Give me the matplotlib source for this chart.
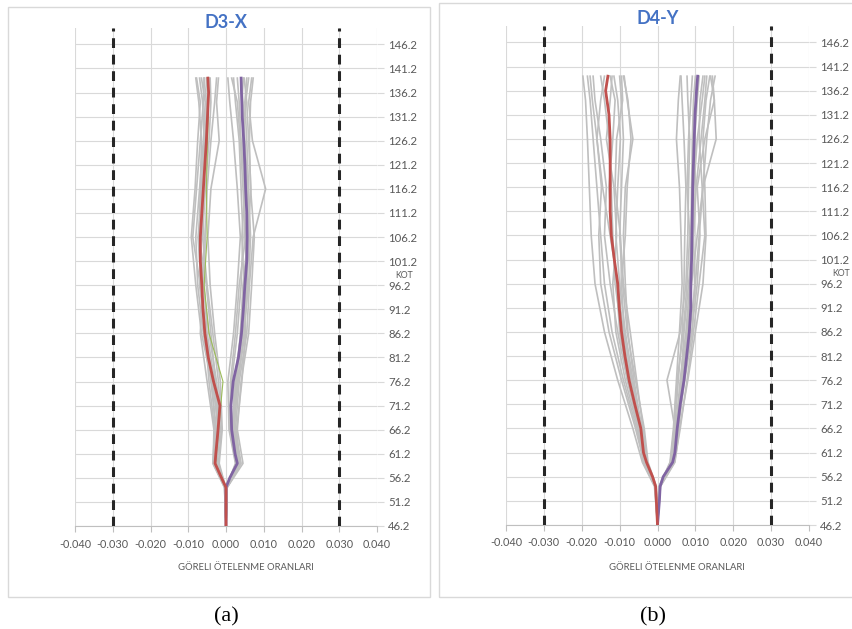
import matplotlib.pyplot as plt
from matplotlib.patches import Rectangle

# kot seviyeleri (ana egriler)
levels_main = [46.2, 51.2, 54.2, 56.2, 59.2, 61.2, 66.2, 71.2, 76.2, 81.2, 86.2,
               91.2, 96.2, 101.2, 106.2, 111.2, 116.2, 121.2, 126.2, 131.2, 136.2, 139.2]
# kot seviyeleri (gri kayit egrileri)
levels_gray = [46.2, 54.2, 59.2, 66.2, 76.2, 86.2, 96.2, 106.2, 116.2, 126.2, 134.2, 139.2]

# D3-X ortalama egriler
d3_red = [0, 0, 0, -0.0012, -0.0029, -0.0027, -0.0021, -0.0016, -0.0033, -0.0047, -0.0056,
          -0.0061, -0.0064, -0.0068, -0.0068, -0.0064, -0.0060, -0.0056, -0.0052, -0.0049, -0.0046, -0.0048]
d3_purple = [0, 0, 0, 0.0010, 0.0030, 0.0024, 0.0015, 0.0013, 0.0019, 0.0033, 0.0041,
             0.0046, 0.0050, 0.0055, 0.0056, 0.0055, 0.0052, 0.0050, 0.0047, 0.0043, 0.0041, 0.0040]
d3_green = [0, 0, -0.0028, -0.0020, -0.0008, -0.0045, -0.0058, -0.0050, -0.0052, -0.0049, -0.0046, -0.0047]

d3_gray_left = [
    [0, -0.0003, -0.0030, -0.0025, -0.0040, -0.0060, -0.0075, -0.0080, -0.0070, -0.0060, -0.0055, -0.0065],
    [0, -0.0002, -0.0025, -0.0015, -0.0025, -0.0045, -0.0060, -0.0070, -0.0065, -0.0058, -0.0062, -0.0070],
    [0, -0.0004, -0.0035, -0.0030, -0.0045, -0.0055, -0.0068, -0.0088, -0.0078, -0.0068, -0.0060, -0.0058],
    [0, -0.0001, -0.0020, -0.0012, -0.0020, -0.0035, -0.0050, -0.0062, -0.0055, -0.0045, -0.0040, -0.0042],
    [0, -0.0003, -0.0028, -0.0022, -0.0030, -0.0050, -0.0058, -0.0055, -0.0050, -0.0040, -0.0030, -0.0025],
    [0, -0.0002, -0.0032, -0.0028, -0.0038, -0.0065, -0.0080, -0.0092, -0.0082, -0.0075, -0.0068, -0.0078],
    [0, -0.0001, -0.0018, -0.0010, -0.0015, -0.0030, -0.0042, -0.0048, -0.0040, -0.0018, -0.0025, -0.0020],
    [0, -0.0003, -0.0026, -0.0020, -0.0035, -0.0055, -0.0070, -0.0066, -0.0060, -0.0050, -0.0048, -0.0052],
    [0, -0.0002, -0.0024, -0.0018, -0.0028, -0.0040, -0.0052, -0.0072, -0.0068, -0.0065, -0.0072, -0.0080],
    [0, -0.0004, -0.0034, -0.0032, -0.0050, -0.0068, -0.0062, -0.0058, -0.0064, -0.0055, -0.0050, -0.0045],
    [0, -0.0002, -0.0027, -0.0019, -0.0036, -0.0052, -0.0066, -0.0074, -0.0062, -0.0054, -0.0052, -0.0058],
]
d3_gray_right = [
    [0, 0.0002, 0.0035, 0.0020, 0.0025, 0.0045, 0.0060, 0.0065, 0.0060, 0.0055, 0.0050, 0.0055],
    [0, 0.0003, 0.0040, 0.0025, 0.0035, 0.0055, 0.0062, 0.0072, 0.0105, 0.0070, 0.0060, 0.0068],
    [0, 0.0001, 0.0028, 0.0012, 0.0015, 0.0030, 0.0040, 0.0045, 0.0040, 0.0035, 0.0025, 0.0020],
    [0, 0.0002, 0.0032, 0.0018, 0.0022, 0.0040, 0.0055, 0.0060, 0.0058, 0.0050, 0.0045, 0.0040],
    [0, 0.0003, 0.0045, 0.0030, 0.0040, 0.0060, 0.0068, 0.0075, 0.0065, 0.0062, 0.0065, 0.0072],
    [0, 0.0001, 0.0025, 0.0008, 0.0005, 0.0020, 0.0030, 0.0038, 0.0030, 0.0020, 0.0010, 0.0005],
    [0, 0.0002, 0.0030, 0.0015, 0.0030, 0.0048, 0.0058, 0.0050, 0.0048, 0.0045, 0.0052, 0.0060],
    [0, 0.0003, 0.0038, 0.0022, 0.0028, 0.0038, 0.0045, 0.0058, 0.0066, 0.0060, 0.0055, 0.0048],
    [0, 0.0002, 0.0036, 0.0028, 0.0042, 0.0052, 0.0048, 0.0042, 0.0050, 0.0040, 0.0035, 0.0030],
    [0, 0.0001, 0.0026, 0.0010, 0.0012, 0.0025, 0.0035, 0.0052, 0.0045, 0.0038, 0.0030, 0.0015],
    [0, 0.0002, 0.0033, 0.0021, 0.0032, 0.0050, 0.0054, 0.0062, 0.0055, 0.0048, 0.0042, 0.0046],
]

# D4-Y ortalama egriler
d4_red = [0, -0.0003, -0.0005, -0.0013, -0.0029, -0.0037, -0.0044, -0.0060, -0.0075, -0.0086, -0.0095,
          -0.0101, -0.0105, -0.0114, -0.0122, -0.0125, -0.0125, -0.0125, -0.0125, -0.0128, -0.0137, -0.0131]
d4_purple = [0, 0.0005, 0.0007, 0.0015, 0.0040, 0.0046, 0.0052, 0.0060, 0.0070, 0.0077, 0.0084,
             0.0088, 0.0088, 0.0090, 0.0091, 0.0092, 0.0093, 0.0095, 0.0097, 0.0099, 0.0103, 0.0106]

d4_gray_left = [
    [0, -0.0008, -0.0040, -0.0065, -0.0105, -0.0140, -0.0165, -0.0175, -0.0180, -0.0185, -0.0190, -0.0197],
    [0, -0.0006, -0.0035, -0.0055, -0.0090, -0.0120, -0.0140, -0.0150, -0.0160, -0.0170, -0.0178, -0.0185],
    [0, -0.0005, -0.0030, -0.0048, -0.0080, -0.0105, -0.0125, -0.0140, -0.0135, -0.0150, -0.0165, -0.0170],
    [0, -0.0004, -0.0028, -0.0040, -0.0070, -0.0095, -0.0112, -0.0118, -0.0122, -0.0128, -0.0140, -0.0150],
    [0, -0.0005, -0.0032, -0.0045, -0.0065, -0.0085, -0.0100, -0.0110, -0.0105, -0.0098, -0.0105, -0.0115],
    [0, -0.0003, -0.0025, -0.0035, -0.0058, -0.0080, -0.0092, -0.0100, -0.0095, -0.0090, -0.0095, -0.0100],
    [0, -0.0004, -0.0030, -0.0042, -0.0062, -0.0078, -0.0085, -0.0090, -0.0085, -0.0065, -0.0080, -0.0088],
    [0, -0.0006, -0.0038, -0.0050, -0.0075, -0.0090, -0.0105, -0.0125, -0.0145, -0.0160, -0.0150, -0.0140],
    [0, -0.0005, -0.0033, -0.0052, -0.0085, -0.0110, -0.0118, -0.0108, -0.0115, -0.0135, -0.0125, -0.0120],
    [0, -0.0004, -0.0027, -0.0038, -0.0055, -0.0072, -0.0090, -0.0098, -0.0112, -0.0108, -0.0092, -0.0095],
    [0, -0.0007, -0.0036, -0.0058, -0.0095, -0.0128, -0.0150, -0.0155, -0.0148, -0.0160, -0.0172, -0.0178],
    [0, -0.0005, -0.0029, -0.0044, -0.0068, -0.0088, -0.0095, -0.0085, -0.0080, -0.0070, -0.0078, -0.0090],
    [0, -0.0006, -0.0034, -0.0050, -0.0078, -0.0100, -0.0108, -0.0120, -0.0128, -0.0118, -0.0112, -0.0125],
]
d4_gray_right = [
    [0, 0.0006, 0.0038, 0.0048, 0.0060, 0.0075, 0.0085, 0.0088, 0.0090, 0.0092, 0.0095, 0.0100],
    [0, 0.0007, 0.0042, 0.0055, 0.0070, 0.0085, 0.0100, 0.0110, 0.0120, 0.0130, 0.0140, 0.0152],
    [0, 0.0005, 0.0035, 0.0045, 0.0055, 0.0065, 0.0070, 0.0072, 0.0075, 0.0070, 0.0065, 0.0062],
    [0, 0.0006, 0.0040, 0.0050, 0.0068, 0.0090, 0.0105, 0.0112, 0.0105, 0.0125, 0.0150, 0.0145],
    [0, 0.0005, 0.0036, 0.0046, 0.0025, 0.0060, 0.0075, 0.0080, 0.0082, 0.0085, 0.0080, 0.0078],
    [0, 0.0007, 0.0045, 0.0060, 0.0078, 0.0095, 0.0110, 0.0125, 0.0118, 0.0110, 0.0112, 0.0120],
    [0, 0.0006, 0.0040, 0.0052, 0.0062, 0.0070, 0.0082, 0.0095, 0.0100, 0.0098, 0.0105, 0.0110],
    [0, 0.0004, 0.0033, 0.0042, 0.0050, 0.0058, 0.0065, 0.0062, 0.0058, 0.0050, 0.0055, 0.0060],
    [0, 0.0006, 0.0041, 0.0054, 0.0072, 0.0092, 0.0098, 0.0095, 0.0102, 0.0115, 0.0125, 0.0130],
    [0, 0.0005, 0.0037, 0.0048, 0.0065, 0.0080, 0.0090, 0.0105, 0.0120, 0.0155, 0.0150, 0.0140],
    [0, 0.0008, 0.0046, 0.0058, 0.0080, 0.0100, 0.0120, 0.0128, 0.0125, 0.0120, 0.0128, 0.0138],
    [0, 0.0005, 0.0034, 0.0044, 0.0052, 0.0068, 0.0078, 0.0085, 0.0078, 0.0082, 0.0088, 0.0092],
    [0, 0.0006, 0.0039, 0.0050, 0.0064, 0.0078, 0.0088, 0.0092, 0.0096, 0.0105, 0.0118, 0.0125],
]

limits = [-0.03, 0.03]
xticks = [-0.04, -0.03, -0.02, -0.01, 0.0, 0.01, 0.02, 0.03, 0.04]
yticks = [46.2, 51.2, 56.2, 61.2, 66.2, 71.2, 76.2, 81.2, 86.2, 91.2, 96.2,
          101.2, 106.2, 111.2, 116.2, 121.2, 126.2, 131.2, 136.2, 141.2, 146.2]

W, H = 852, 629
fig = plt.figure(figsize=(W / 100, H / 100), dpi=100)
txt_gray = '#595959'
font = 'Lato'


def px_axes(left, top, right, bottom):
    return fig.add_axes([left / W, 1 - bottom / H, (right - left) / W, (bottom - top) / H])


def draw_panel(ax, red, purple, gray_left, gray_right, green=None):
    for g in gray_left + gray_right:
        ax.plot(g, levels_gray, color='#BFBFBF', lw=1.2, zorder=2)
    if green is not None:
        ax.plot(green, levels_gray, color='#9BBB59', lw=0.8, zorder=2.5)
    ax.plot(purple, levels_main, color='#8064A2', lw=2.0, zorder=3)
    ax.plot(red, levels_main, color='#C0504D', lw=2.0, zorder=3.5)
    for v in limits:
        ax.axvline(v, color='#262626', lw=2.2, dashes=(3.2, 2.2), zorder=4)

    ax.set_xlim(-0.04, 0.04)
    ax.set_ylim(46.2, 149.6)
    ax.set_xticks(xticks)
    ax.set_xticklabels(['%.3f' % t for t in xticks], fontsize=7.8, color=txt_gray, family=font)
    ax.set_yticks(yticks)
    ax.set_yticklabels(['%.1f' % t for t in yticks], fontsize=8.2, color=txt_gray, family=font)
    ax.yaxis.tick_right()
    ax.tick_params(axis='y', length=5, color='#D9D9D9', pad=3)
    ax.tick_params(axis='x', length=4, color='#BFBFBF', pad=5)
    ax.grid(True, color='#D9D9D9', lw=0.8)
    ax.set_axisbelow(True)
    for s in ['top', 'left', 'right']:
        ax.spines[s].set_visible(False)
    ax.spines['bottom'].set_color('#BFBFBF')


# (a) D3-X
fig.add_artist(Rectangle((8 / W, 1 - 597 / H), 422 / W, 590 / H, transform=fig.transFigure,
                         fill=False, edgecolor='#D9D9D9', lw=1))
ax1 = px_axes(75, 28, 377, 526)
draw_panel(ax1, d3_red, d3_purple, d3_gray_left, d3_gray_right, d3_green)
fig.text(226 / W, 1 - 23 / H, 'D3-X', color='#4472C4', fontsize=13, fontweight='bold',
         family=font, ha='center', va='center')
fig.text(404 / W, 1 - 276 / H, 'KOT', fontsize=6.3, color=txt_gray, family=font, ha='center', va='center')
fig.text(246 / W, 1 - 568 / H, 'GÖRELI ÖTELENME ORANLARI', fontsize=6.8, color=txt_gray,
         family=font, ha='center', va='center')
fig.text(226 / W, 1 - 617 / H, '(a)', fontsize=16, family='Liberation Serif', ha='center', va='center')

# (b) D4-Y
fig.add_artist(Rectangle((439 / W, 1 - 597 / H), 430 / W, 594 / H, transform=fig.transFigure,
                         fill=False, edgecolor='#D9D9D9', lw=1))
ax2 = px_axes(506, 26, 809, 525)
draw_panel(ax2, d4_red, d4_purple, d4_gray_left, d4_gray_right)
fig.text(658 / W, 1 - 19 / H, 'D4-Y', color='#4472C4', fontsize=13, fontweight='bold',
         family=font, ha='center', va='center')
fig.text(850 / W, 1 - 273 / H, 'KOT', fontsize=6.3, color=txt_gray, family=font, ha='right', va='center')
fig.text(677 / W, 1 - 568 / H, 'GÖRELI ÖTELENME ORANLARI', fontsize=6.8, color=txt_gray,
         family=font, ha='center', va='center')
fig.text(653 / W, 1 - 617 / H, '(b)', fontsize=16, family='Liberation Serif', ha='center', va='center')

fig.savefig('out.png', dpi=100)
